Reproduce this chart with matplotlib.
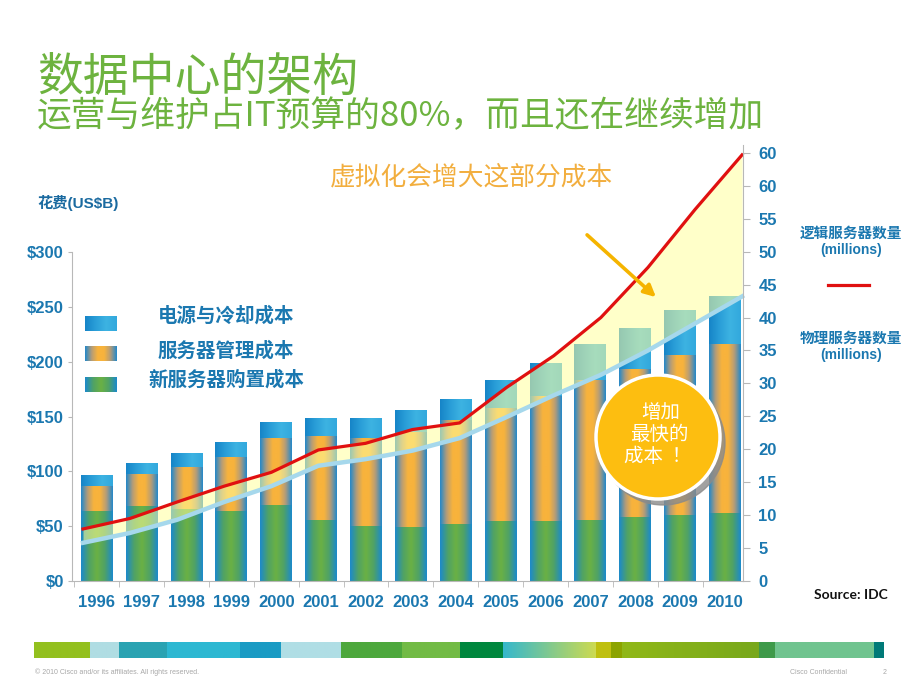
import numpy as np
import matplotlib
matplotlib.use('Agg')
import matplotlib.pyplot as plt
from matplotlib.colors import LinearSegmentedColormap
from matplotlib.patches import Ellipse

# data
years = ['1996', '1997', '1998', '1999', '2000', '2001', '2002', '2003',
         '2004', '2005', '2006', '2007', '2008', '2009', '2010']
new_server = [64, 68, 66, 64, 69, 56, 50, 49, 52, 55, 55, 56, 58, 60, 62]
mgmt_cost = [23, 30, 38, 49, 61, 76, 80, 87, 95, 103, 114, 127, 135, 146, 154]
power_cost = [10, 10, 13, 14, 15, 17, 19, 20, 19, 25, 30, 33, 38, 41, 44]
logical_servers = [7.9, 9.5, 12.0, 14.4, 16.5, 19.9, 20.9, 23.0, 24.0, 29.4,
                   34.2, 40.0, 47.6, 56.4, 64.7]
physical_servers = [5.8, 7.3, 9.3, 12.0, 14.4, 17.5, 18.5, 19.8, 21.7, 24.9,
                    28.2, 31.3, 35.0, 39.1, 43.2]
left_ticks = [0, 50, 100, 150, 200, 250, 300]
left_labels = ['$0', '$50', '$100', '$150', '$200', '$250', '$300']
right_ticks = [0, 5, 10, 15, 20, 25, 30, 35, 40, 45, 50, 55, 60, 65]
right_labels = ['0', '5', '10', '15', '20', '25', '30', '35', '40', '45',
                '50', '55', '60', '60']
legend_labels = ['电源与冷却成本', '服务器管理成本', '新服务器购置成本']

# decorative colour strip at the bottom of the slide (pixel edges)
strip_edges = [34, 90, 119, 167, 240, 281, 341, 402, 460, 503, 596, 611,
               622, 759, 775, 874, 884]
strip_colors = [('#93C01F', '#93C01F'), ('#B0DDE3', '#B0DDE3'),
                ('#2AA3B2', '#2AA3B2'), ('#2DB8D2', '#2DB8D2'),
                ('#1A9BC4', '#1A9BC4'), ('#B0DEE5', '#B0DEE5'),
                ('#4DA83D', '#4DA83D'), ('#72BB45', '#72BB45'),
                ('#00873E', '#00873E'), ('#36B8CC', '#CCDA52'),
                ('#BFC010', '#BFC010'), ('#8CA400', '#8CA400'),
                ('#90B818', '#78A81C'), ('#3F9A4A', '#3F9A4A'),
                ('#70C48F', '#70C48F'), ('#007A78', '#007A78')]

CJK = ['Noto Sans CJK SC', 'DejaVu Sans']
LAT = ['Liberation Sans', 'Noto Sans CJK SC', 'DejaVu Sans']
BLUE_TXT = '#1B78B0'
GREEN_TITLE = '#6DB33F'

cmap_power = LinearSegmentedColormap.from_list('p', ['#1685C8', '#2A9ED8', '#3DB3E2', '#32A8DD'])
cmap_mgmt = LinearSegmentedColormap.from_list('m', ['#2488C9', '#B49C78', '#F8B33C', '#F8B33C', '#B49C78', '#2488C9'])
cmap_new = LinearSegmentedColormap.from_list('n', ['#1C8ACB', '#4FA266', '#6BB144', '#4FA266', '#1C8ACB'])
grad = np.linspace(0, 1, 64).reshape(1, -1)


def fill_gradient(ax, patches, cmap):
    for p in patches:
        x0, y0 = p.get_x(), p.get_y()
        im = ax.imshow(grad, cmap=cmap, aspect='auto', interpolation='bicubic',
                       extent=(x0, x0 + p.get_width(), y0, y0 + p.get_height()),
                       zorder=2)
        im.set_clip_path(p)


fig = plt.figure(figsize=(9.2, 6.9), dpi=100)
W, H = 920, 690
rect = [72 / W, 109 / H, 671 / W, 436 / H]

# ---- stacked cost bars (left axis)
ax = fig.add_axes(rect)
x = np.arange(len(years))
bw = 0.71
b1 = ax.bar(x, new_server, bw, color='none', linewidth=0)
bottom2 = np.array(new_server)
b2 = ax.bar(x, mgmt_cost, bw, bottom=bottom2, color='none', linewidth=0)
bottom3 = bottom2 + np.array(mgmt_cost)
b3 = ax.bar(x, power_cost, bw, bottom=bottom3, color='none', linewidth=0)
fill_gradient(ax, b1, cmap_new)
fill_gradient(ax, b2, cmap_mgmt)
fill_gradient(ax, b3, cmap_power)

ax.set_xlim(-0.55, 14.4)
ax.set_ylim(0, 397.6)
for s in ['top', 'right']:
    ax.spines[s].set_visible(False)
ax.spines['left'].set_bounds(0, 300)
for s in ['left', 'bottom']:
    ax.spines[s].set_color('#B8B8B8')
ax.set_yticks(left_ticks)
ax.set_yticklabels(left_labels, fontfamily=LAT, fontweight='bold', fontsize=12, color=BLUE_TXT)
ax.tick_params(axis='y', length=3, color='#B8B8B8', pad=3)
ax.set_xticks(x)
ax.set_xticklabels(years, fontfamily=LAT, fontweight='bold', fontsize=12, color=BLUE_TXT)
ax.tick_params(axis='x', which='major', length=0, pad=10)
ax.set_xticks(np.arange(-0.5, 14.4, 1), minor=True)
ax.tick_params(axis='x', which='minor', length=4, color='#B8B8B8')

# ---- server count lines (right axis)
lax = fig.add_axes(rect)
lax.patch.set_visible(False)
lx = np.arange(len(years))
lax.fill_between(lx, physical_servers, logical_servers, color='#FFFF9E', alpha=0.55, lw=0)
lax.plot(lx, physical_servers, color='#A6D8EC', lw=3.2, clip_on=False)
lax.plot(lx, logical_servers, color='#E01010', lw=2.3, clip_on=False)
lax.set_xlim(-0.234, 14.02)
lax.set_ylim(0, 66.2)
for s in ['top', 'left', 'bottom']:
    lax.spines[s].set_visible(False)
lax.spines['right'].set_color('#B8B8B8')
lax.set_xticks([])
lax.yaxis.tick_right()
lax.set_yticks(right_ticks)
lax.set_yticklabels(right_labels, fontfamily=LAT, fontweight='bold', fontsize=12, color=BLUE_TXT)
lax.tick_params(axis='y', length=5, color='#B8B8B8', pad=6)

# ---- titles and notes
fig.text(37 / W, 1 - 78 / H, '数据中心的架构', fontfamily=CJK, fontsize=33,
         color=GREEN_TITLE, va='center')
fig.text(37 / W, 1 - 117 / H, '运营与维护占IT预算的80%，而且还在继续增加', fontfamily=CJK,
         fontsize=25, color=GREEN_TITLE, va='center')
fig.text(330 / W, 1 - 177 / H, '虚拟化会增大这部分成本', fontfamily=CJK, fontsize=18.5,
         color='#F2AE3E', va='center')
fig.text(37 / W, 1 - 203 / H, '花费(US$B)', fontfamily=LAT, fontsize=11, fontweight='bold',
         color='#1A6AA0', va='center')

# legend swatches + labels
sw_y = [316, 346, 377]
for cm, y, lab, ty in zip([cmap_power, cmap_mgmt, cmap_new], sw_y, legend_labels, [316, 351, 380]):
    sax = fig.add_axes([85 / W, 1 - (y + 15) / H, 32 / W, 15 / H])
    sax.imshow(grad, cmap=cm, aspect='auto', interpolation='bicubic')
    sax.axis('off')
    fig.text(226 / W, 1 - ty / H, lab, fontfamily=CJK, fontsize=14, fontweight='bold',
             color=BLUE_TXT, ha='center', va='center')

# right-hand series notes
fig.text(851 / W, 1 - 233 / H, '逻辑服务器数量', fontfamily=CJK, fontsize=10.5,
         fontweight='bold', color=BLUE_TXT, ha='center', va='center')
fig.text(851 / W, 1 - 250 / H, '(millions)', fontfamily=LAT, fontsize=10,
         fontweight='bold', color=BLUE_TXT, ha='center', va='center')
fig.add_artist(plt.Line2D([828 / W, 869 / W], [1 - 285 / H, 1 - 285 / H], color='#E01010', lw=2.3))
fig.text(851 / W, 1 - 338 / H, '物理服务器数量', fontfamily=CJK, fontsize=10.5,
         fontweight='bold', color=BLUE_TXT, ha='center', va='center')
fig.text(851 / W, 1 - 355 / H, '(millions)', fontfamily=LAT, fontsize=10,
         fontweight='bold', color=BLUE_TXT, ha='center', va='center')
fig.text(851 / W, 1 - 595 / H, 'Source: IDC', fontfamily=['Lato', 'DejaVu Sans'], fontsize=10,
         fontweight='bold', color='#111111', ha='center', va='center')

# overlay in pixel coordinates for the arrow and callout bubble
over = fig.add_axes([0, 0, 1, 1], frameon=False)
over.set_xlim(0, W)
over.set_ylim(H, 0)
over.axis('off')
over.annotate('', xy=(658, 299), xytext=(585, 233),
              arrowprops=dict(arrowstyle='-|>,head_length=0.7,head_width=0.35',
                              color='#F5B400', lw=2.6))
over.add_patch(Ellipse((663, 443), 124, 124, color='#8A8A8A', alpha=0.8))
over.add_patch(Ellipse((658, 437), 124, 124, facecolor='#FDBE10',
                       edgecolor='white', lw=2.5))
over.text(661, 412, '增加', fontfamily=CJK, fontsize=14, color='white', ha='center', va='center')
over.text(659, 434, '最快的', fontfamily=CJK, fontsize=14, color='white', ha='center', va='center')
over.text(658, 456, '成本  ！', fontfamily=CJK, fontsize=14, color='white', ha='center', va='center')

# decorative strip and footer
strip = fig.add_axes([34 / W, 1 - 658 / H, 850 / W, 16 / H])
strip.axis('off')
for (c0, c1), l, r in zip(strip_colors, strip_edges[:-1], strip_edges[1:]):
    cm = LinearSegmentedColormap.from_list('s', [c0, c1])
    strip.imshow(grad, cmap=cm, aspect='auto', extent=(l, r, 0, 1))
strip.set_xlim(strip_edges[0], strip_edges[-1])
strip.set_ylim(0, 1)

fig.text(35 / W, 1 - 672 / H, '© 2010 Cisco and/or its affiliates. All rights reserved.',
         fontfamily=LAT, fontsize=5, color='#A8A8A8', va='center')
fig.text(790 / W, 1 - 672 / H, 'Cisco Confidential', fontfamily=LAT, fontsize=5,
         color='#A8A8A8', va='center')
fig.text(883 / W, 1 - 672 / H, '2', fontfamily=LAT, fontsize=5, color='#A8A8A8', va='center')

fig.savefig('out.png', dpi=100)
